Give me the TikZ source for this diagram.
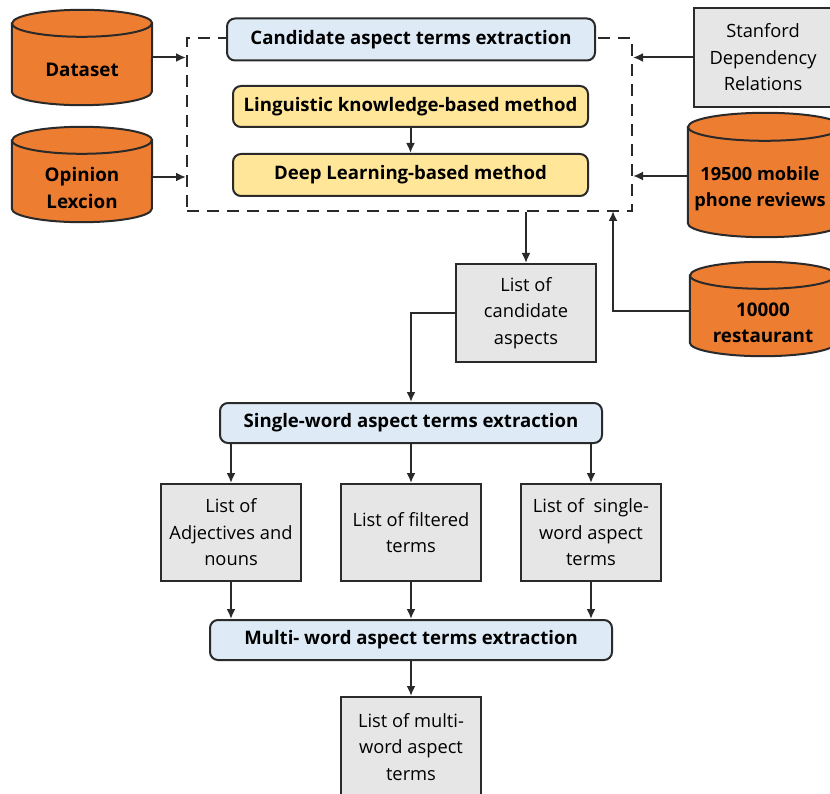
\documentclass[tikz,border=0pt]{standalone}
\usepackage{fontspec}
\setmainfont{Open Sans}
\usetikzlibrary{arrows.meta,calc}
\definecolor{orng}{HTML}{ED7D31}
\definecolor{lblue}{HTML}{DEEBF7}
\definecolor{lyel}{HTML}{FFE699}
\definecolor{lgray}{HTML}{E7E6E6}
\definecolor{edge}{HTML}{2A2A2A}
\tikzset{
  base/.style={line width=2pt, draw=edge, align=center, inner sep=0pt},
  bluebox/.style={base, fill=lblue, rounded corners=8pt, font=\fontsize{18.6}{22}\selectfont\bfseries},
  yelbox/.style={base, fill=lyel, rounded corners=8pt, font=\fontsize{18.6}{22}\selectfont\bfseries},
  graybox/.style={base, fill=lgray, font=\fontsize{18.3}{26.5}\selectfont},
  cylnode/.style={inner sep=0pt, align=center, font=\fontsize{18.8}{26.5}\selectfont\bfseries},
  cylfill/.style={line width=2pt, draw=edge, fill=orng},
  conn/.style={line width=2pt, draw=edge, -{Latex[length=10pt,width=9pt]}},
  frm/.style={draw=edge, line width=2pt, dash pattern=on 12pt off 8pt},
}
\newcommand\cylshape[3]{% name, half width, ry
  \path[cylfill] ($(#1.north west)+(0,-#3)$) -- ($(#1.south west)+(0,#3)$)
     arc[start angle=180,end angle=360,x radius=#2,y radius=#3]
     -- ($(#1.north east)+(0,-#3)$)
     arc[start angle=0,end angle=180,x radius=#2,y radius=#3] -- cycle;
  \draw[line width=2pt, draw=edge] ($(#1.north west)+(0,-#3)$)
     arc[start angle=180,end angle=360,x radius=#2,y radius=#3];
}
\begin{document}
\begin{tikzpicture}[x=1pt,y=1pt]
\clip (0,0) rectangle (830,-794);
\fill[white] (0,0) rectangle (830,-794);

% dashed frame
\node[frm, minimum width=445pt, minimum height=173pt, inner sep=0pt] (frame) at (409.5,-124.5) {};
\coordinate (fin) at (613,-211);

% cylinders
\node[cylnode, minimum width=140pt, minimum height=95pt] (ds) at (82,-57.5) {};
\cylshape{ds}{70}{13.5}
\node[cylnode] at (82,-70) {Dataset};

\node[cylnode, minimum width=140pt, minimum height=95pt] (op) at (82,-174.5) {};
\cylshape{op}{70}{13.5}
\node[cylnode] at (82,-188) {Opinion\\Lexcion};

\node[cylnode, minimum width=154pt, minimum height=124pt] (mp) at (765,-175) {};
\cylshape{mp}{77}{14}
\node[cylnode, font=\fontsize{18.2}{26.5}\selectfont\bfseries] at (760,-189) {19500 mobile\\phone reviews};

\node[cylnode, minimum width=146pt, minimum height=94pt] (rs) at (763,-309) {};
\cylshape{rs}{73}{13.5}
\node[cylnode] at (763,-323) {10000\\restaurant};

% boxes
\node[bluebox, minimum width=368pt, minimum height=42pt] (cand) at (411,-39.5) {Candidate aspect terms extraction};
\node[yelbox, minimum width=355pt, minimum height=41pt] (lk) at (410.5,-106.5) {Linguistic knowledge-based method};
\node[yelbox, minimum width=355pt, minimum height=42pt] (dl) at (410.5,-175) {Deep Learning-based method};
\node[graybox, minimum width=138pt, minimum height=99pt] (sf) at (763,-57.5) {Stanford\\Dependency\\Relations};
\node[graybox, minimum width=140pt, minimum height=98pt] (lc) at (526,-313) {List of\\candidate\\aspects};
\node[bluebox, minimum width=382pt, minimum height=40pt] (sw) at (411,-423) {Single-word aspect terms extraction};
\node[graybox, minimum width=140pt, minimum height=97pt] (b1) at (231,-532.5) {List of\\Adjectives and\\nouns};
\node[graybox, minimum width=140pt, minimum height=97pt] (b2) at (411,-532.5) {List of filtered\\terms};
\node[graybox, minimum width=140pt, minimum height=97pt] (b3) at (591,-532.5) {List of~~single-\\word aspect\\terms};
\node[bluebox, minimum width=402pt, minimum height=40pt] (mw) at (411,-640) {Multi- word aspect terms extraction};
\node[graybox, minimum width=140pt, minimum height=100pt] (lm) at (411,-747) {List of multi-\\word aspect\\terms};

% connectors
\draw[conn] (ds.east) -- (ds.east -| frame.west);
\draw[conn] ($(op.east)+(0,-2.5)$) -- ($(op.east -| frame.west)+(0,-2.5)$);
\draw[conn] (sf.west) -- (sf.west -| frame.east);
\draw[conn] ($(mp.west)+(0,-1)$) -- ($(mp.west -| frame.east)+(0,-1)$);
\draw[conn] ($(rs.west)+(0,-2)$) -| (fin);
\draw[conn] (lk.south) -- (dl.north);
\draw[conn] (lc.north |- frame.south) -- (lc.north);
\draw[conn] (lc.west) -| (sw.north);
\draw[conn] (sw.south -| b1.north) -- (b1.north);
\draw[conn] (sw.south -| b2.north) -- (b2.north);
\draw[conn] (sw.south -| b3.north) -- (b3.north);
\draw[conn] (b1.south) -- (b1.south |- mw.north);
\draw[conn] (b2.south) -- (b2.south |- mw.north);
\draw[conn] (b3.south) -- (b3.south |- mw.north);
\draw[conn] (mw.south) -- (lm.north);
\end{tikzpicture}
\end{document}
